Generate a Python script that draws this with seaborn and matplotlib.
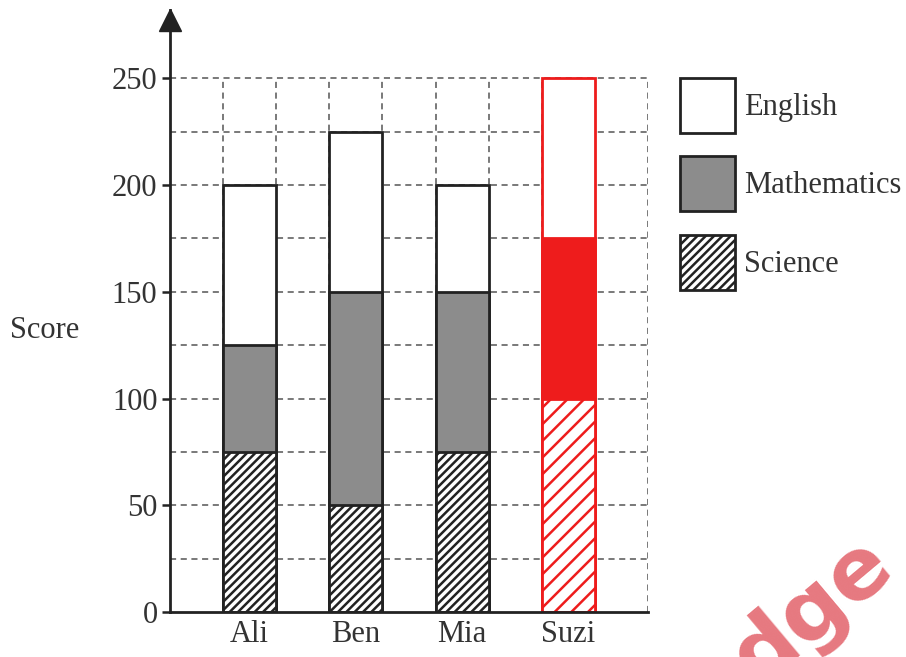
import matplotlib.pyplot as plt
import numpy as np
import seaborn as sns
from matplotlib.patches import Patch

# scores
students = ["Ali", "Ben", "Mia", "Suzi"]
science = [75, 50, 75, 100]
maths = [50, 100, 75, 75]
english = [75, 75, 50, 75]
subjects = ["English", "Mathematics", "Science"]
y_ticks = [0, 50, 100, 150, 200, 250]

sns.set_style("white")
plt.rcParams["font.family"] = ["Liberation Serif", "DejaVu Serif"]
plt.rcParams["hatch.linewidth"] = 1.8

grey = "#8c8c8c"
red = "#ee1c1c"

sci = np.array(science)
sci_math = sci + np.array(maths)
total = sci_math + np.array(english)

fig = plt.figure(figsize=(9.06, 6.57), dpi=100)
ax = fig.add_axes([170 / 906, 1 - 612 / 657, 478 / 906, 602 / 657])

# dashed grid behind the bars
ax.hlines(np.arange(25, 251, 25), -0.75, 3.75, colors="#555555",
          linestyles=(0, (4, 3)), linewidth=1.1, zorder=0.5)
ax.vlines(np.arange(-0.25, 3.8, 0.5), 0, 250, colors="#555555",
          linestyles=(0, (4, 3)), linewidth=1.1, zorder=0.5)

# cumulative bars drawn on top of each other
layers = [(total, "white", None), (sci_math, grey, None), (sci, "white", "////")]
for vals, col, hatch in layers:
    n = len(ax.patches)
    sns.barplot(x=students, y=vals, color=col, saturation=1, width=0.5,
                edgecolor="#222222", linewidth=2.0, hatch=hatch, ax=ax)
    for p in ax.patches[n:]:
        if abs(p.get_x() + p.get_width() / 2 - 3) < 0.1:
            p.set_edgecolor(red)
            if col == grey:
                p.set_facecolor(red)
            if hatch:
                p.set_hatch("//")

ax.set_xlim(-0.75, 3.75)
ax.set_ylim(0, 282)
ax.set_yticks(y_ticks)
ax.tick_params(axis="y", direction="out", length=6, width=1.8, labelsize=22,
               pad=3, colors="#222222", left=True)
ax.tick_params(axis="x", length=0, labelsize=22, pad=6, colors="#222222")
for lab in ax.get_xticklabels() + ax.get_yticklabels():
    lab.set_color("#333333")

sns.despine(ax=ax)
for s in ["left", "bottom"]:
    ax.spines[s].set_linewidth(2.0)
    ax.spines[s].set_color("#222222")
ax.plot([0], [1 - 10 / 602], marker="^", markersize=16, color="#222222",
        transform=ax.transAxes, clip_on=False)

ax.set_xlabel("")
ax.set_ylabel("Score", rotation=0, fontsize=22, color="#333333")
ax.yaxis.set_label_coords(-0.262, 0.443)

handles = [Patch(facecolor="white", edgecolor="#222222", linewidth=2),
           Patch(facecolor=grey, edgecolor="#222222", linewidth=2),
           Patch(facecolor="white", edgecolor="#222222", linewidth=2, hatch="////")]
fig.legend(handles, subjects, loc="upper left",
           bbox_to_anchor=(680 / 906, 1 - 78 / 657), frameon=False,
           borderpad=0, borderaxespad=0,
           fontsize=22, handlelength=1.8, handleheight=2.39,
           labelspacing=0.77, handletextpad=0.3, labelcolor="#333333")

# watermark fragment in the lower right corner
fig.text(812 / 906, 1 - 612 / 657, "dge", rotation=40, fontsize=62,
         fontweight="bold", color="#e46a72", alpha=0.9, ha="center",
         va="center", rotation_mode="anchor", family="DejaVu Sans")

fig.savefig("out.png", dpi=100)
